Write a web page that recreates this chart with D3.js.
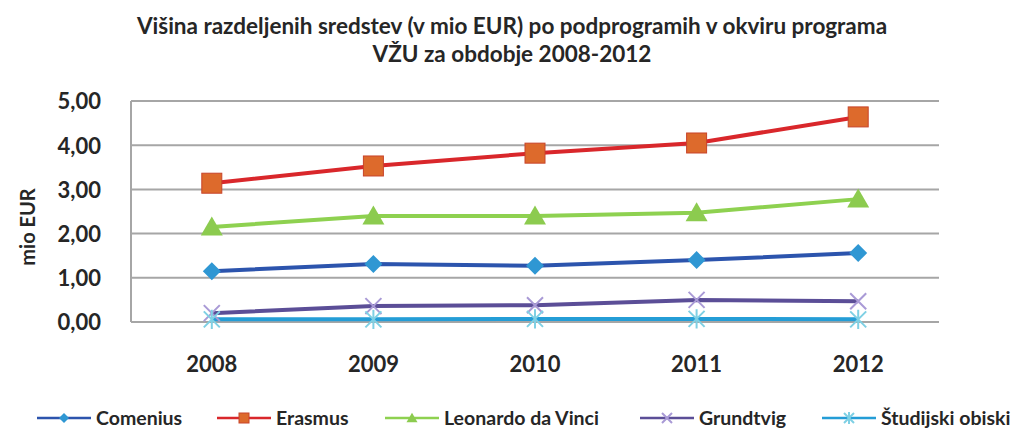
<!DOCTYPE html>
<html><head><meta charset="utf-8">
<script src="https://cdn.jsdelivr.net/npm/d3@7"></script>
<style>body{margin:0;background:#fff}svg{display:block}text{font-family:Lato,"Open Sans",sans-serif;font-weight:bold;fill:#262626}</style>
</head><body>
<svg id="c" width="1020" height="428"></svg>
<script>
const years = ["2008","2009","2010","2011","2012"];
const comenius = [1.15,1.31,1.27,1.40,1.56];
const erasmus = [3.14,3.53,3.82,4.05,4.64];
const leonardo = [2.15,2.40,2.40,2.47,2.78];
const grundtvig = [0.20,0.36,0.38,0.50,0.47];
const studijski = [0.06,0.06,0.07,0.07,0.06];
const yTicks = [0,1,2,3,4,5];
const seriesNames = ["Comenius","Erasmus","Leonardo da Vinci","Grundtvig","Študijski obiski"];
const titleLines = ["Višina razdeljenih sredstev (v mio EUR) po podprogramih v okviru programa","VŽU za obdobje 2008-2012"];

const series = [
  {name:seriesNames[0], values:comenius, line:"#2c54ad", fill:"#2f97d3", stroke:"#2f97d3", shape:"diamond"},
  {name:seriesNames[1], values:erasmus, line:"#d9272b", fill:"#dd6a2c", stroke:"#c8442a", shape:"square"},
  {name:seriesNames[2], values:leonardo, line:"#8ed150", fill:"#8ccb4f", stroke:"#8ccb4f", shape:"triangle"},
  {name:seriesNames[3], values:grundtvig, line:"#5b4e97", fill:"none", stroke:"#a99ad6", shape:"x"},
  {name:seriesNames[4], values:studijski, line:"#249dd6", fill:"none", stroke:"#7fd0e4", shape:"star"}
];

const svg = d3.select("#c");
const m = {l:131, r:939, t:101, b:322};
const x = d3.scaleBand().domain(years).range([m.l, m.r]);
const y = d3.scaleLinear().domain([0,5]).range([m.b, m.t]);
const fmt = v => d3.format(".2f")(v).replace(".", ",");

// title
svg.append("g").selectAll("text").data(titleLines).join("text")
  .attr("x", 512).attr("y", (d,i)=>34+i*28).attr("text-anchor","middle")
  .style("font-size","22.5px").text(d=>d);

// gridlines
svg.append("g").selectAll("line").data(yTicks).join("line")
  .attr("x1", m.l).attr("x2", m.r).attr("y1", d=>y(d)).attr("y2", d=>y(d))
  .attr("stroke","#a6a6a6").attr("stroke-width",2);
svg.append("line").attr("x1",m.l).attr("x2",m.l).attr("y1",m.t).attr("y2",m.b)
  .attr("stroke","#a6a6a6").attr("stroke-width",2);

// y axis labels
const ya = svg.append("g").attr("transform",`translate(${m.l-30},0)`)
  .call(d3.axisLeft(y).tickValues(yTicks).tickFormat(fmt).tickSize(0).tickPadding(0));
ya.select(".domain").remove();
ya.selectAll("text").style("font-size","22px").attr("dy","0.36em").style("font-family","Lato,sans-serif").style("font-weight","bold");

// x axis labels
const xa = svg.append("g").attr("transform",`translate(0,${m.b})`)
  .call(d3.axisBottom(x).tickSize(0).tickPadding(0));
xa.select(".domain").remove();
xa.selectAll("text").attr("y", 50).attr("dy",0).style("font-size","22px").style("font-family","Lato,sans-serif").style("font-weight","bold");

svg.append("text").attr("transform","translate(35,227) rotate(-90)")
  .attr("text-anchor","middle").style("font-size","20px").text("mio EUR");

function marker(g, shape, s, col) {
  if (shape==="diamond") g.append("path").attr("d",`M0,${-s}L${s},0L0,${s}L${-s},0Z`).attr("fill",col.fill);
  else if (shape==="square") g.append("rect").attr("x",-s).attr("y",-s).attr("width",2*s).attr("height",2*s).attr("fill",col.fill).attr("stroke",col.stroke).attr("stroke-width",1);
  else if (shape==="triangle") g.append("path").attr("d",`M0,${-s*1.05}L${s*1.1},${s*0.85}L${-s*1.1},${s*0.85}Z`).attr("fill",col.fill);
  else if (shape==="x") g.append("path").attr("d",`M${-s},${-s}L${s},${s}M${s},${-s}L${-s},${s}`).attr("stroke",col.stroke).attr("stroke-width",2);
  else if (shape==="star") g.append("path").attr("d",`M${-s},${-s}L${s},${s}M${s},${-s}L${-s},${s}M0,${-s*1.2}L0,${s*1.2}`).attr("stroke",col.stroke).attr("stroke-width",2);
}
const sizes = {diamond:9, square:10, triangle:10, x:8, star:8};

const line = d3.line().x((d,i)=>x(years[i])+x.bandwidth()/2).y(d=>y(d));
series.forEach(s=>{
  svg.append("path").datum(s.values).attr("d",line).attr("fill","none")
    .attr("stroke",s.line).attr("stroke-width",4);
});
series.forEach(s=>{
  s.values.forEach((v,i)=>{
    const g = svg.append("g").attr("transform",`translate(${x(years[i])+x.bandwidth()/2},${y(v)})`);
    marker(g, s.shape, sizes[s.shape], s);
  });
});

// legend
const legX = [37, 217, 385, 640, 822];
series.forEach((s,i)=>{
  const g = svg.append("g").attr("transform",`translate(${legX[i]},418)`);
  g.append("line").attr("x1",0).attr("x2",54).attr("stroke",s.line).attr("stroke-width",2.5);
  const mg = g.append("g").attr("transform","translate(27,0)");
  marker(mg, s.shape, 5, s);
  g.append("text").attr("x",59).attr("y",7).style("font-size","19.5px").text(s.name);
});
</script>
</body></html>
